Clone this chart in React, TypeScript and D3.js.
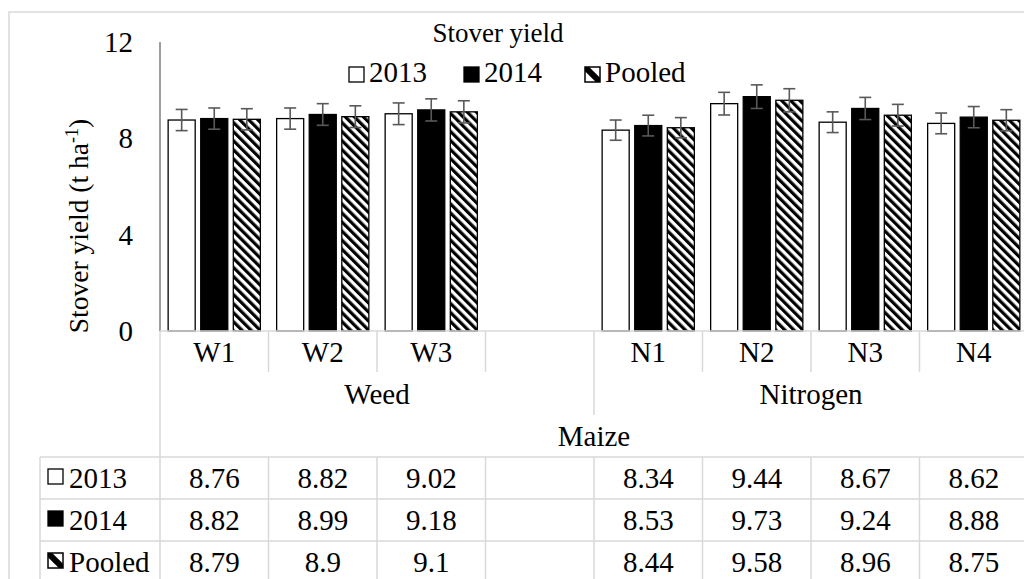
import React from "react";
import * as d3 from "d3";

// Chart data
const categories = ["W1", "W2", "W3", "", "N1", "N2", "N3", "N4"];
const seriesNames = ["2013", "2014", "Pooled"];
const values2013 = [8.76, 8.82, 9.02, null, 8.34, 9.44, 8.67, 8.62];
const values2014 = [8.82, 8.99, 9.18, null, 8.53, 9.73, 9.24, 8.88];
const valuesPooled = [8.79, 8.9, 9.1, null, 8.44, 9.58, 8.96, 8.75];
const errors2013 = [0.44, 0.44, 0.45, null, 0.42, 0.47, 0.43, 0.43];
const errors2014 = [0.44, 0.45, 0.46, null, 0.43, 0.49, 0.46, 0.44];
const errorsPooled = [0.44, 0.45, 0.46, null, 0.42, 0.48, 0.45, 0.44];
const yTicks = [0, 4, 8, 12];
const groupLabels = ["Weed", "Nitrogen"];
const groupSpans = [[0, 3], [4, 7]];
const topLabel = "Maize";
const chartTitle = "Stover yield";

const seriesValues = [values2013, values2014, valuesPooled];
const seriesErrors = [errors2013, errors2014, errorsPooled];

const W = 1024;
const H = 579;
const FONT = "'Liberation Serif', 'Times New Roman', serif";
const GRID = "#d9d9d9";

const plotLeft = 160;
const plotRight = 1028;
const plotTop = 42;
const plotBottom = 331;

// Table row boundaries below the axis
const catRowBottom = 372;
const groupRowBottom = 415;
const topRowBottom = 457;
const rowH = 42;
const tableLeft = 40;

function Swatch({ kind, x, y, size }: { kind: number; x: number; y: number; size: number }) {
  if (kind === 0) {
    return <rect x={x} y={y} width={size} height={size} fill="white" stroke="black" strokeWidth={1.3} />;
  }
  if (kind === 1) {
    return <rect x={x} y={y} width={size} height={size} fill="black" stroke="black" strokeWidth={1.3} />;
  }
  const b = size * 0.28;
  return (
    <g>
      <rect x={x} y={y} width={size} height={size} fill="white" stroke="black" strokeWidth={1.5} />
      <polygon
        points={`${x},${y} ${x + b},${y} ${x + size},${y + size - b} ${x + size},${y + size} ${x + size - b},${y + size} ${x},${y + b}`}
        fill="black"
      />
    </g>
  );
}

export default function App() {
  const x = d3.scaleBand<string>().domain(categories).range([plotLeft, plotRight]).padding(0);
  const xs = d3
    .scaleBand<string>()
    .domain(seriesNames)
    .range([0, x.bandwidth()])
    .paddingInner(0.17)
    .paddingOuter(0.25);
  const y = d3.scaleLinear().domain([0, 12]).range([plotBottom, plotTop]);

  const bw = x.bandwidth();
  const colLeft = (i: number) => plotLeft + i * bw;
  const fills = ["white", "black", "url(#hatch)"];
  const legendX = [369, 484, 605];

  return (
    <svg
      width={W}
      height={H}
      style={{ position: "absolute", left: 0, top: 0, background: "white", fontFamily: FONT }}
    >
      <defs>
        <pattern id="hatch" patternUnits="userSpaceOnUse" width={6.4} height={6.4} patternTransform="rotate(-45)">
          <rect width={6.4} height={6.4} fill="white" />
          <rect width={3.2} height={6.4} fill="black" />
        </pattern>
      </defs>

      {/* outer chart frame */}
      <rect x={9} y={12} width={W + 20} height={H + 20} fill="white" stroke={GRID} strokeWidth={1.5} />

      {/* title */}
      <text x={498} y={42} fontSize={27} textAnchor="middle" fill="black">
        {chartTitle}
      </text>

      {/* legend */}
      {seriesNames.map((s, i) => (
        <g key={s}>
          <Swatch kind={i} x={legendX[i] - 20} y={67} size={15} />
          <text x={legendX[i]} y={82} fontSize={29} fill="black">
            {s}
          </text>
        </g>
      ))}

      {/* y axis */}
      <line x1={plotLeft} x2={plotLeft} y1={plotTop} y2={plotBottom} stroke="#7f7f7f" strokeWidth={1.5} />
      {yTicks.map((t) => (
        <text key={t} x={133} y={y(t) + 10} fontSize={29} textAnchor="end" fill="black">
          {t}
        </text>
      ))}
      <text transform="translate(88,226) rotate(-90)" fontSize={27.5} textAnchor="middle" fill="black">
        Stover yield (t ha
        <tspan fontSize={18} dy={-10}>
          -1
        </tspan>
        <tspan dy={10}>)</tspan>
      </text>

      {/* bars */}
      {seriesNames.map((s, si) =>
        categories.map((c, ci) => {
          const v = seriesValues[si][ci];
          if (v == null) return null;
          const bx = (x(c) as number) + (xs(s) as number);
          return (
            <rect
              key={s + ci}
              x={bx}
              y={y(v)}
              width={xs.bandwidth()}
              height={y(0) - y(v)}
              fill={fills[si]}
              stroke="black"
              strokeWidth={1.3}
            />
          );
        })
      )}

      {/* error bars */}
      {seriesNames.map((s, si) =>
        categories.map((c, ci) => {
          const v = seriesValues[si][ci];
          const e = seriesErrors[si][ci];
          if (v == null || e == null) return null;
          const cx = (x(c) as number) + (xs(s) as number) + xs.bandwidth() / 2;
          const hw = 6;
          return (
            <g key={"e" + s + ci} stroke="#595959" strokeWidth={1.6}>
              <line x1={cx} x2={cx} y1={y(v + e)} y2={y(v - e)} />
              <line x1={cx - hw} x2={cx + hw} y1={y(v + e)} y2={y(v + e)} />
              <line x1={cx - hw} x2={cx + hw} y1={y(v - e)} y2={y(v - e)} />
            </g>
          );
        })
      )}

      {/* category axis table */}
      <g stroke={GRID} strokeWidth={1.5}>
        <line x1={plotLeft} x2={W + 10} y1={plotBottom} y2={plotBottom} />
        {categories.map((c, i) =>
          i === 0 ? null : (
            <line
              key={"cs" + i}
              x1={colLeft(i)}
              x2={colLeft(i)}
              y1={plotBottom}
              y2={groupSpans.some((g) => g[0] === i) ? groupRowBottom : catRowBottom}
            />
          )
        )}
        <line x1={plotLeft} x2={plotLeft} y1={plotBottom} y2={H + 10} />
        <line x1={tableLeft} x2={tableLeft} y1={topRowBottom} y2={H + 10} />
        {[0, 1, 2, 3].map((r) => (
          <line key={"h" + r} x1={tableLeft} x2={W + 10} y1={topRowBottom + r * rowH} y2={topRowBottom + r * rowH} />
        ))}
        {categories.map((c, i) =>
          i === 0 ? null : (
            <line key={"tv" + i} x1={colLeft(i)} x2={colLeft(i)} y1={topRowBottom} y2={H + 10} />
          )
        )}
      </g>

      {categories.map((c, i) => (
        <text
          key={"cl" + i}
          x={(x(c) as number) + bw / 2}
          y={(plotBottom + catRowBottom) / 2 + 10}
          fontSize={29}
          textAnchor="middle"
          fill="black"
        >
          {c}
        </text>
      ))}
      {groupLabels.map((g, gi) => (
        <text
          key={g}
          x={(colLeft(groupSpans[gi][0]) + colLeft(groupSpans[gi][1] + 1)) / 2}
          y={(catRowBottom + groupRowBottom) / 2 + 10}
          fontSize={29}
          textAnchor="middle"
          fill="black"
        >
          {g}
        </text>
      ))}
      <text
        x={(plotLeft + plotRight) / 2}
        y={(groupRowBottom + topRowBottom) / 2 + 10}
        fontSize={29}
        textAnchor="middle"
        fill="black"
      >
        {topLabel}
      </text>

      {/* data table rows */}
      {seriesNames.map((s, si) => {
        const cy = topRowBottom + si * rowH + rowH / 2;
        return (
          <g key={"row" + s}>
            <Swatch kind={si} x={48} y={cy - 9} size={15} />
            <text x={69} y={cy + 10} fontSize={29} fill="black">
              {s}
            </text>
            {categories.map((c, ci) => {
              const v = seriesValues[si][ci];
              if (v == null) return null;
              return (
                <text
                  key={"tv" + ci}
                  x={(x(c) as number) + bw / 2}
                  y={cy + 10}
                  fontSize={29}
                  textAnchor="middle"
                  fill="black"
                >
                  {String(v)}
                </text>
              );
            })}
          </g>
        );
      })}
    </svg>
  );
}
